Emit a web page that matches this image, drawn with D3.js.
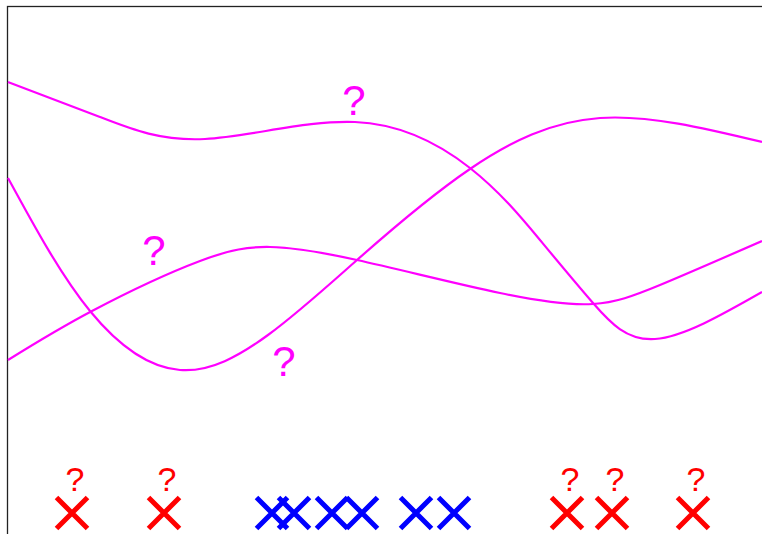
<!DOCTYPE html>
<html>
<head>
<meta charset="utf-8">
<script src="https://cdn.jsdelivr.net/npm/d3@7"></script>
<style>
  html, body { margin: 0; padding: 0; background: #fff; }
  svg { display: block; }
</style>
</head>
<body>
<script>
// ---- data (x value = horizontal position units, y value = height units) ----
const curveAX = [0, 92, 197, 347, 462, 532, 585, 647, 754];
const curveAY = [452, 417, 395, 412, 366, 294, 231, 195, 242];

const curveBX = [0, 82, 172, 260, 349, 462, 592, 754];
const curveBY = [356, 223, 164, 199, 274, 365, 416, 392];

const curveCX = [0, 84, 192, 262, 349, 492, 585, 652, 754];
const curveCY = [174, 223, 273, 287, 274, 241, 230, 249, 293];

const curveLabels = ["?", "?", "?"];
const curveLabelX = [346, 146, 276];
const curveLabelY = [419, 269, 158];

const redMarkX = [64, 156, 559, 604, 685];
const blueMarkX = [264, 286, 324, 354, 408, 446];
const markY = 21;
const redLabel = "?";

// ---- layout ----
const W = 762, H = 534;
const svg = d3.select("body").append("svg").attr("width", W).attr("height", H);

const x = d3.scaleLinear().domain([0, 754]).range([8, 762]);
const y = d3.scaleLinear().domain([0, 528]).range([534, 6]);

// frame (plot border, extends past the window)
svg.append("rect")
  .attr("x", 7.5).attr("y", 6.5)
  .attr("width", 900).attr("height", 700)
  .attr("fill", "none").attr("stroke", "#222").attr("stroke-width", 1.3);

const line = d3.line()
  .x(d => x(d[0])).y(d => y(d[1]))
  .curve(d3.curveNatural);

const series = [
  d3.zip(curveAX, curveAY),
  d3.zip(curveBX, curveBY),
  d3.zip(curveCX, curveCY)
];

svg.selectAll("path.curve").data(series).join("path")
  .attr("class", "curve")
  .attr("d", line)
  .attr("fill", "none")
  .attr("stroke", "#ff00ff")
  .attr("stroke-width", 2.2);

svg.selectAll("text.clabel").data(curveLabels).join("text")
  .attr("class", "clabel")
  .attr("x", (d, i) => x(curveLabelX[i]))
  .attr("y", (d, i) => y(curveLabelY[i]))
  .attr("text-anchor", "middle")
  .attr("font-family", "Liberation Sans, Arial, sans-serif")
  .attr("font-size", 42)
  .attr("fill", "#ff00ff")
  .text(d => d);

// X markers
const half = 15.5;
function cross(cx, cy) {
  return `M${cx - half},${cy - half}L${cx + half},${cy + half}M${cx - half},${cy + half}L${cx + half},${cy - half}`;
}

svg.selectAll("path.blue").data(blueMarkX).join("path")
  .attr("class", "blue")
  .attr("d", d => cross(x(d), y(markY)))
  .attr("stroke", "#0000ff").attr("stroke-width", 5).attr("fill", "none");

svg.selectAll("path.red").data(redMarkX).join("path")
  .attr("class", "red")
  .attr("d", d => cross(x(d), y(markY)))
  .attr("stroke", "#ff0000").attr("stroke-width", 5).attr("fill", "none");

svg.selectAll("text.rlabel").data(redMarkX).join("text")
  .attr("class", "rlabel")
  .attr("x", d => x(d) + 3)
  .attr("y", y(markY) - 22)
  .attr("text-anchor", "middle")
  .attr("font-family", "Liberation Sans, Arial, sans-serif")
  .attr("font-size", 34)
  .attr("fill", "#ff0000")
  .text(redLabel);
</script>
</body>
</html>
